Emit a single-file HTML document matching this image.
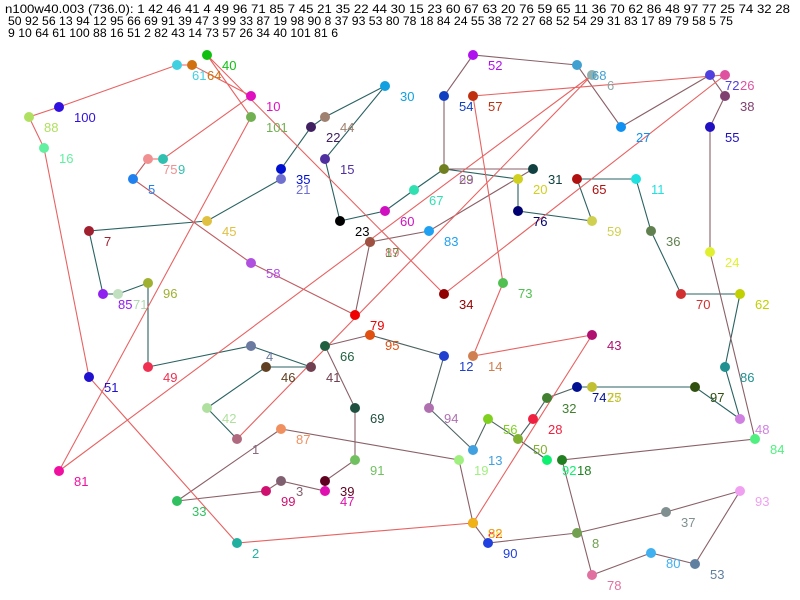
<!DOCTYPE html>
<html><head><meta charset="utf-8"><style>
html,body{margin:0;padding:0;background:#fff;}
svg{display:block;}
text{font-family:"Liberation Sans",sans-serif;}
.h{font-size:12px;fill:#000;}
.l{font-size:13px;}
</style></head><body>
<svg width="800" height="600" viewBox="0 0 800 600" xmlns="http://www.w3.org/2000/svg">
<rect width="800" height="600" fill="#fff"/>
<text class="h" x="5" y="13" textLength="785" lengthAdjust="spacingAndGlyphs">n100w40.003 (736.0): 1 42 46 41 4 49 96 71 85 7 45 21 35 22 44 30 15 23 60 67 63 20 76 59 65 11 36 70 62 86 48 97 77 25 74 32 28</text>
<text class="h" x="8" y="25" textLength="725" lengthAdjust="spacingAndGlyphs">50 92 56 13 94 12 95 66 69 91 39 47 3 99 33 87 19 98 90 8 37 93 53 80 78 18 84 24 55 38 72 27 68 52 54 29 31 83 17 89 79 58 5 75</text>
<text class="h" x="8" y="37" textLength="330" lengthAdjust="spacingAndGlyphs">9 10 64 61 100 88 16 51 2 82 43 14 73 57 26 34 40 101 81 6</text>

<g fill="none" stroke-width="1.1">
<polyline stroke="#2a6262" points="237,439 207,408 266,367 311,367 251,346 148,367 148,283 118,294 103,294 89,231 207,221 281,179 281,169 311,127 325,117 385,86 325,159 340,221 385,211 414,190 444,169 518,179 518,211 592,221 577,179 636,179 651,231 681,294 740,294 725,367 740,419 695,387 592,387 592,387 577,387"/>
<polyline stroke="#4e6262" points="577,387 547,398 533,419 518,439 547,460 518,439 488,419 473,450 429,408 444,356 370,335"/>
<polyline stroke="#8a6068" points="370,335 325,346 355,408 355,460 325,481 325,491 281,481 266,491 177,501 281,429 459,460 473,523 488,543 577,533 666,512 740,491 695,564 651,553 592,575 562,460 755,439 710,252 710,127 725,96 710,75 621,127 577,65 473,55 444,96 444,169 533,169 429,231 370,242 355,315"/>
<polyline stroke="#c05c60" points="355,315 251,263 133,179 148,159"/>
<polyline stroke="#e86262" points="148,159 163,159 251,96 192,65 177,65 59,107 29,117 44,148 89,377 237,543 473,523 592,335 473,356 503,283 473,96 725,75 444,294 207,55 251,117 59,471 592,75 237,439"/>
</g>

<g>
<circle cx="237" cy="439" r="5" fill="#b06a80"/><text class="l" x="252" y="454" fill="#8a6a80">1</text>
<circle cx="237" cy="543" r="5" fill="#20b0a0"/><text class="l" x="252" y="558" fill="#20b0a0">2</text>
<circle cx="281" cy="481" r="5" fill="#806070"/><text class="l" x="296" y="496" fill="#806070">3</text>
<circle cx="251" cy="346" r="5" fill="#6a7aa0"/><text class="l" x="266" y="361" fill="#6a7aa0">4</text>
<circle cx="133" cy="179" r="5" fill="#2080f0"/><text class="l" x="148" y="194" fill="#2080f0">5</text>
<circle cx="592" cy="75" r="5" fill="#90b0b0"/><text class="l" x="607" y="90" fill="#90a8a8">6</text>
<circle cx="89" cy="231" r="5" fill="#a02030"/><text class="l" x="104" y="246" fill="#a02030">7</text>
<circle cx="577" cy="533" r="5" fill="#70a050"/><text class="l" x="592" y="548" fill="#70a050">8</text>
<circle cx="163" cy="159" r="5" fill="#30c0b0"/><text class="l" x="178" y="174" fill="#30c0b0">9</text>
<circle cx="251" cy="96" r="5" fill="#e010c0"/><text class="l" x="266" y="111" fill="#e010c0">10</text>
<circle cx="636" cy="179" r="5" fill="#20e0e0"/><text class="l" x="651" y="194" fill="#20e0e0">11</text>
<circle cx="444" cy="356" r="5" fill="#2040d0"/><text class="l" x="459" y="371" fill="#2040d0">12</text>
<circle cx="473" cy="450" r="5" fill="#40a0e0"/><text class="l" x="488" y="465" fill="#40a0e0">13</text>
<circle cx="473" cy="356" r="5" fill="#d08050"/><text class="l" x="488" y="371" fill="#d08050">14</text>
<circle cx="325" cy="159" r="5" fill="#5030a0"/><text class="l" x="340" y="174" fill="#5030a0">15</text>
<circle cx="44" cy="148" r="5" fill="#60f0a0"/><text class="l" x="59" y="163" fill="#60f0a0">16</text>
<circle cx="370" cy="242" r="5" fill="#40b050"/><text class="l" x="385" y="257" fill="#40b050">17</text>
<circle cx="562" cy="460" r="5" fill="#208020"/><text class="l" x="577" y="475" fill="#208020">18</text>
<circle cx="459" cy="460" r="5" fill="#a0f080"/><text class="l" x="474" y="475" fill="#a0f080">19</text>
<circle cx="518" cy="179" r="5" fill="#d0d020"/><text class="l" x="533" y="194" fill="#d0d020">20</text>
<circle cx="281" cy="179" r="5" fill="#7070d0"/><text class="l" x="296" y="194" fill="#7070d0">21</text>
<circle cx="311" cy="127" r="5" fill="#402060"/><text class="l" x="326" y="142" fill="#402060">22</text>
<circle cx="340" cy="221" r="5" fill="#000"/><text class="l" x="355" y="236" fill="#000">23</text>
<circle cx="710" cy="252" r="5" fill="#e0f030"/><text class="l" x="725" y="267" fill="#e0f030">24</text>
<circle cx="592" cy="387" r="5" fill="#c0c030"/><text class="l" x="607" y="402" fill="#c0c030">25</text>
<circle cx="725" cy="75" r="5" fill="#e050a0"/><text class="l" x="740" y="90" fill="#e050a0">26</text>
<circle cx="621" cy="127" r="5" fill="#1090f0"/><text class="l" x="636" y="142" fill="#1090f0">27</text>
<circle cx="533" cy="419" r="5" fill="#f02040"/><text class="l" x="548" y="434" fill="#f02040">28</text>
<circle cx="444" cy="169" r="5" fill="#708020"/><text class="l" x="459" y="184" fill="#708020">29</text>
<circle cx="385" cy="86" r="5" fill="#10a0e0"/><text class="l" x="400" y="101" fill="#10a0e0">30</text>
<circle cx="533" cy="169" r="5" fill="#104040"/><text class="l" x="548" y="184" fill="#104040">31</text>
<circle cx="547" cy="398" r="5" fill="#408030"/><text class="l" x="562" y="413" fill="#408030">32</text>
<circle cx="177" cy="501" r="5" fill="#30c060"/><text class="l" x="192" y="516" fill="#30c060">33</text>
<circle cx="444" cy="294" r="5" fill="#900000"/><text class="l" x="459" y="309" fill="#900000">34</text>
<circle cx="281" cy="169" r="5" fill="#0010d0"/><text class="l" x="296" y="184" fill="#0010d0">35</text>
<circle cx="651" cy="231" r="5" fill="#608050"/><text class="l" x="666" y="246" fill="#608050">36</text>
<circle cx="666" cy="512" r="5" fill="#809090"/><text class="l" x="681" y="527" fill="#809090">37</text>
<circle cx="725" cy="96" r="5" fill="#804070"/><text class="l" x="740" y="111" fill="#804070">38</text>
<circle cx="325" cy="481" r="5" fill="#600020"/><text class="l" x="340" y="496" fill="#600020">39</text>
<circle cx="207" cy="55" r="5" fill="#10c010"/><text class="l" x="222" y="70" fill="#10c010">40</text>
<circle cx="311" cy="367" r="5" fill="#704050"/><text class="l" x="326" y="382" fill="#704050">41</text>
<circle cx="207" cy="408" r="5" fill="#b0e0a0"/><text class="l" x="222" y="423" fill="#b0e0a0">42</text>
<circle cx="592" cy="335" r="5" fill="#b01070"/><text class="l" x="607" y="350" fill="#b01070">43</text>
<circle cx="325" cy="117" r="5" fill="#a08070"/><text class="l" x="340" y="132" fill="#a08070">44</text>
<circle cx="207" cy="221" r="5" fill="#e0c040"/><text class="l" x="222" y="236" fill="#e0c040">45</text>
<circle cx="266" cy="367" r="5" fill="#604020"/><text class="l" x="281" y="382" fill="#604020">46</text>
<circle cx="325" cy="491" r="5" fill="#e010b0"/><text class="l" x="340" y="506" fill="#e010b0">47</text>
<circle cx="740" cy="419" r="5" fill="#d080e0"/><text class="l" x="755" y="434" fill="#d080e0">48</text>
<circle cx="148" cy="367" r="5" fill="#f03050"/><text class="l" x="163" y="382" fill="#f03050">49</text>
<circle cx="518" cy="439" r="5" fill="#80b030"/><text class="l" x="533" y="454" fill="#80b030">50</text>
<circle cx="89" cy="377" r="5" fill="#2010d0"/><text class="l" x="104" y="392" fill="#2010d0">51</text>
<circle cx="473" cy="55" r="5" fill="#b010f0"/><text class="l" x="488" y="70" fill="#b010f0">52</text>
<circle cx="695" cy="564" r="5" fill="#6080a0"/><text class="l" x="710" y="579" fill="#6080a0">53</text>
<circle cx="444" cy="96" r="5" fill="#1040c0"/><text class="l" x="459" y="111" fill="#1040c0">54</text>
<circle cx="710" cy="127" r="5" fill="#2010c0"/><text class="l" x="725" y="142" fill="#2010c0">55</text>
<circle cx="488" cy="419" r="5" fill="#80d020"/><text class="l" x="503" y="434" fill="#80d020">56</text>
<circle cx="473" cy="96" r="5" fill="#c03010"/><text class="l" x="488" y="111" fill="#c03010">57</text>
<circle cx="251" cy="263" r="5" fill="#b050e0"/><text class="l" x="266" y="278" fill="#b050e0">58</text>
<circle cx="592" cy="221" r="5" fill="#d0d050"/><text class="l" x="607" y="236" fill="#d0d050">59</text>
<circle cx="385" cy="211" r="5" fill="#d010c0"/><text class="l" x="400" y="226" fill="#d010c0">60</text>
<circle cx="177" cy="65" r="5" fill="#40d0e0"/><text class="l" x="192" y="80" fill="#40d0e0">61</text>
<circle cx="740" cy="294" r="5" fill="#c0d000"/><text class="l" x="755" y="309" fill="#c0d000">62</text>
<text class="l" x="459" y="184" fill="#b040f0" opacity="0.6">63</text>
<circle cx="192" cy="65" r="5" fill="#d07010"/><text class="l" x="207" y="80" fill="#d07010">64</text>
<circle cx="577" cy="179" r="5" fill="#b01010"/><text class="l" x="592" y="194" fill="#b01010">65</text>
<circle cx="325" cy="346" r="5" fill="#206040"/><text class="l" x="340" y="361" fill="#206040">66</text>
<circle cx="414" cy="190" r="5" fill="#30e0b0"/><text class="l" x="429" y="205" fill="#30e0b0">67</text>
<circle cx="577" cy="65" r="5" fill="#40a0d0"/><text class="l" x="592" y="80" fill="#40a0d0">68</text>
<circle cx="355" cy="408" r="5" fill="#205040"/><text class="l" x="370" y="423" fill="#205040">69</text>
<circle cx="681" cy="294" r="5" fill="#d03030"/><text class="l" x="696" y="309" fill="#d03030">70</text>
<circle cx="118" cy="294" r="5" fill="#c0e0c0"/><text class="l" x="133" y="309" fill="#b0d8b0">71</text>
<circle cx="710" cy="75" r="5" fill="#5040e0"/><text class="l" x="725" y="90" fill="#5040e0">72</text>
<circle cx="503" cy="283" r="5" fill="#50c050"/><text class="l" x="518" y="298" fill="#50c050">73</text>
<circle cx="577" cy="387" r="5" fill="#001090"/><text class="l" x="592" y="402" fill="#001090">74</text>
<circle cx="148" cy="159" r="5" fill="#f09090"/><text class="l" x="163" y="174" fill="#f09090">75</text>
<circle cx="518" cy="211" r="5" fill="#000070"/><text class="l" x="533" y="226" fill="#000070">76</text>
<text class="l" x="607" y="402" fill="#c0c020" opacity="0.6">77</text>
<circle cx="592" cy="575" r="5" fill="#e070a0"/><text class="l" x="607" y="590" fill="#e070a0">78</text>
<circle cx="355" cy="315" r="5" fill="#f00000"/><text class="l" x="370" y="330" fill="#f00000">79</text>
<circle cx="651" cy="553" r="5" fill="#40b0f0"/><text class="l" x="666" y="568" fill="#40b0f0">80</text>
<circle cx="59" cy="471" r="5" fill="#f010a0"/><text class="l" x="74" y="486" fill="#f010a0">81</text>
<circle cx="473" cy="523" r="5" fill="#f00030"/><text class="l" x="488" y="538" fill="#f00030">82</text>
<circle cx="429" cy="231" r="5" fill="#20a0f0"/><text class="l" x="444" y="246" fill="#20a0f0">83</text>
<circle cx="755" cy="439" r="5" fill="#50f080"/><text class="l" x="770" y="454" fill="#50f080">84</text>
<circle cx="103" cy="294" r="5" fill="#9020f0"/><text class="l" x="118" y="309" fill="#9020f0">85</text>
<circle cx="725" cy="367" r="5" fill="#209090"/><text class="l" x="740" y="382" fill="#209090">86</text>
<circle cx="281" cy="429" r="5" fill="#f09060"/><text class="l" x="296" y="444" fill="#f09060">87</text>
<circle cx="29" cy="117" r="5" fill="#b0e060"/><text class="l" x="44" y="132" fill="#b0e060">88</text>
<circle cx="370" cy="242" r="5" fill="#a05040"/><text class="l" x="385" y="257" fill="#d03030" opacity="0.6">89</text>
<circle cx="488" cy="543" r="5" fill="#2040e0"/><text class="l" x="503" y="558" fill="#2040e0">90</text>
<circle cx="355" cy="460" r="5" fill="#70c060"/><text class="l" x="370" y="475" fill="#70c060">91</text>
<circle cx="547" cy="460" r="5" fill="#10f070"/><text class="l" x="562" y="475" fill="#10f070">92</text>
<circle cx="740" cy="491" r="5" fill="#f0a0f0"/><text class="l" x="755" y="506" fill="#f0a0f0">93</text>
<circle cx="429" cy="408" r="5" fill="#b070b0"/><text class="l" x="444" y="423" fill="#b070b0">94</text>
<circle cx="370" cy="335" r="5" fill="#e05010"/><text class="l" x="385" y="350" fill="#e05010">95</text>
<circle cx="148" cy="283" r="5" fill="#a0b030"/><text class="l" x="163" y="298" fill="#a0b030">96</text>
<circle cx="695" cy="387" r="5" fill="#305010"/><text class="l" x="710" y="402" fill="#305010">97</text>
<circle cx="473" cy="523" r="5" fill="#f0e010" opacity="0.8"/><text class="l" x="488" y="538" fill="#f0e010" opacity="0.8">98</text>
<circle cx="266" cy="491" r="5" fill="#d01070"/><text class="l" x="281" y="506" fill="#d01070">99</text>
<circle cx="59" cy="107" r="5" fill="#3010e0"/><text class="l" x="74" y="122" fill="#3010e0">100</text>
<circle cx="251" cy="117" r="5" fill="#70b050"/><text class="l" x="266" y="132" fill="#70b050">101</text>
</g>
</svg>
</body></html>
